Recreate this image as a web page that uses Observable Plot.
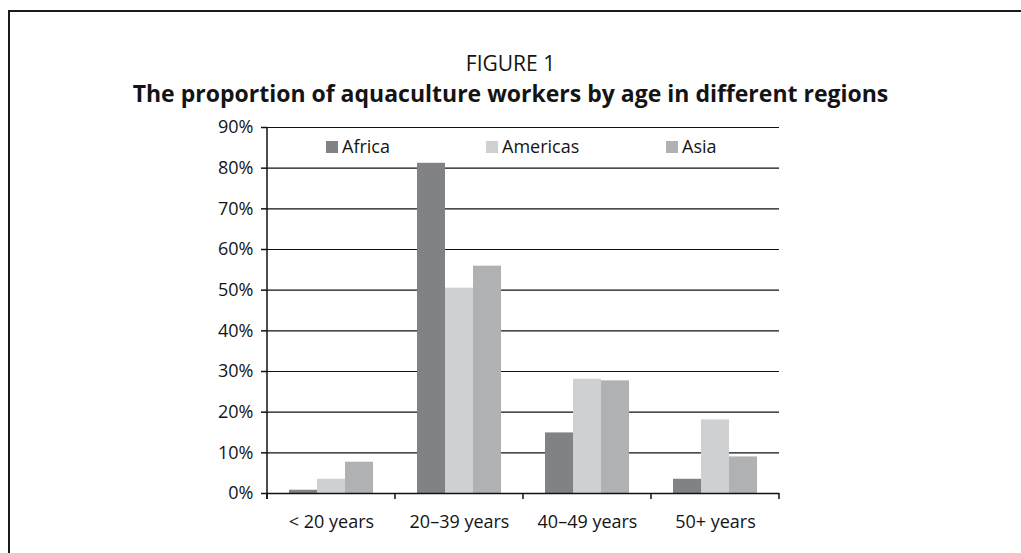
<!DOCTYPE html>
<html>
<head>
<meta charset="utf-8">
<script src="https://cdn.jsdelivr.net/npm/d3@7"></script>
<script src="https://cdn.jsdelivr.net/npm/@observablehq/plot@0.6"></script>
<style>
  body { margin: 0; background: #fff; font-family: "Open Sans", sans-serif; color: #141414; }
  #page { position: relative; width: 1021px; height: 553px; overflow: hidden; }
  #box { position: absolute; left: 8px; top: 10px; width: 1100px; height: 700px;
         border-left: 2px solid #1a1a1a; border-top: 2px solid #1a1a1a; }
  .head { position: absolute; left: 0; width: 1021px; text-align: center; white-space: nowrap; }
  #fig { top: 53px; font-size: 21px; line-height: 21px; }
  #title { top: 82px; font-size: 23px; line-height: 23px; font-weight: 700; }
  #chart { position: absolute; left: 0; top: 110px; }
  .item { position: absolute; top: 137px; font-size: 18px; line-height: 18px; white-space: nowrap; }
  .item .sw { display: inline-block; width: 12px; height: 12px; margin-right: 4px; }
</style>
</head>
<body>
<div id="page">
  <div id="box"></div>
  <div class="head" id="fig">FIGURE 1</div>
  <div class="head" id="title">The proportion of aquaculture workers by age in different regions</div>
  <div id="chart"></div>
</div>
<script>
// Age groups, regions and share of workers (%) per region
const ages = ["< 20 years", "20–39 years", "40–49 years", "50+ years"];
const regions = ["Africa", "Americas", "Asia"];
const africa = [0.8, 81.2, 14.9, 3.5];
const americas = [3.5, 50.5, 28.1, 18.1];
const asia = [7.7, 55.9, 27.7, 9.0];
const colors = ["#818286", "#cfd0d2", "#b0b1b3"];
const yTicks = [0, 10, 20, 30, 40, 50, 60, 70, 80, 90];

const series = [africa, americas, asia];
const rows = [];
ages.forEach((age, i) => regions.forEach((region, j) => rows.push({age, region, value: series[j][i]})));

const chart = Plot.plot({
  width: 1021,
  height: 440,
  marginLeft: 266,
  marginRight: 241,
  marginTop: 17,
  marginBottom: 57,
  style: {fontFamily: "Open Sans, sans-serif", fontSize: "18px", color: "#141414", background: "transparent"},
  fx: {domain: ages, padding: 0, axis: null},
  x: {domain: regions, paddingInner: 0, paddingOuter: 0.74, axis: null},
  y: {domain: [0, 90], axis: null},
  color: {domain: regions, range: colors},
  marks: [
    Plot.ruleY(yTicks.slice(1), {stroke: "#111", strokeWidth: 1.2}),
    Plot.barY(rows, {fx: "age", x: "region", y: "value", fill: "region"}),
    Plot.ruleY([0], {stroke: "#111", strokeWidth: 1.5}),
    Plot.axisY({ticks: yTicks, tickFormat: d => d + "%", tickSize: 6, tickPadding: 8,
                fontSize: 18, stroke: "#111", strokeWidth: 1.5, label: null}),
    Plot.axisFx({anchor: "bottom", tickSize: 0, tickPadding: 22, fontSize: 18, label: null})
  ]
});
document.getElementById("chart").appendChild(chart);

// Vertical axis line and boundary ticks between age groups
const fx = chart.scale("fx");
const yr = chart.scale("y").range;
const y0 = Math.max(...yr), yTop = Math.min(...yr);
const edges = ages.map(a => fx.apply(a)).concat([fx.apply(ages[ages.length - 1]) + fx.bandwidth]);
const svg = d3.select(chart);
svg.append("line")
  .attr("x1", edges[0]).attr("x2", edges[0]).attr("y1", yTop).attr("y2", y0 + 6)
  .attr("stroke", "#111").attr("stroke-width", 1.5);
svg.selectAll("line.edge").data(edges).join("line").attr("class", "edge")
  .attr("x1", d => d).attr("x2", d => d).attr("y1", y0).attr("y2", y0 + 6)
  .attr("stroke", "#111").attr("stroke-width", 1.5);

// Legend inside the plot area
const legendLeft = [326, 486, 666];
const page = d3.select("#page");
regions.forEach((r, i) => {
  const item = page.append("div").attr("class", "item").style("left", legendLeft[i] + "px");
  item.append("span").attr("class", "sw").style("background", colors[i]);
  item.append("span").text(r);
});
</script>
</body>
</html>
